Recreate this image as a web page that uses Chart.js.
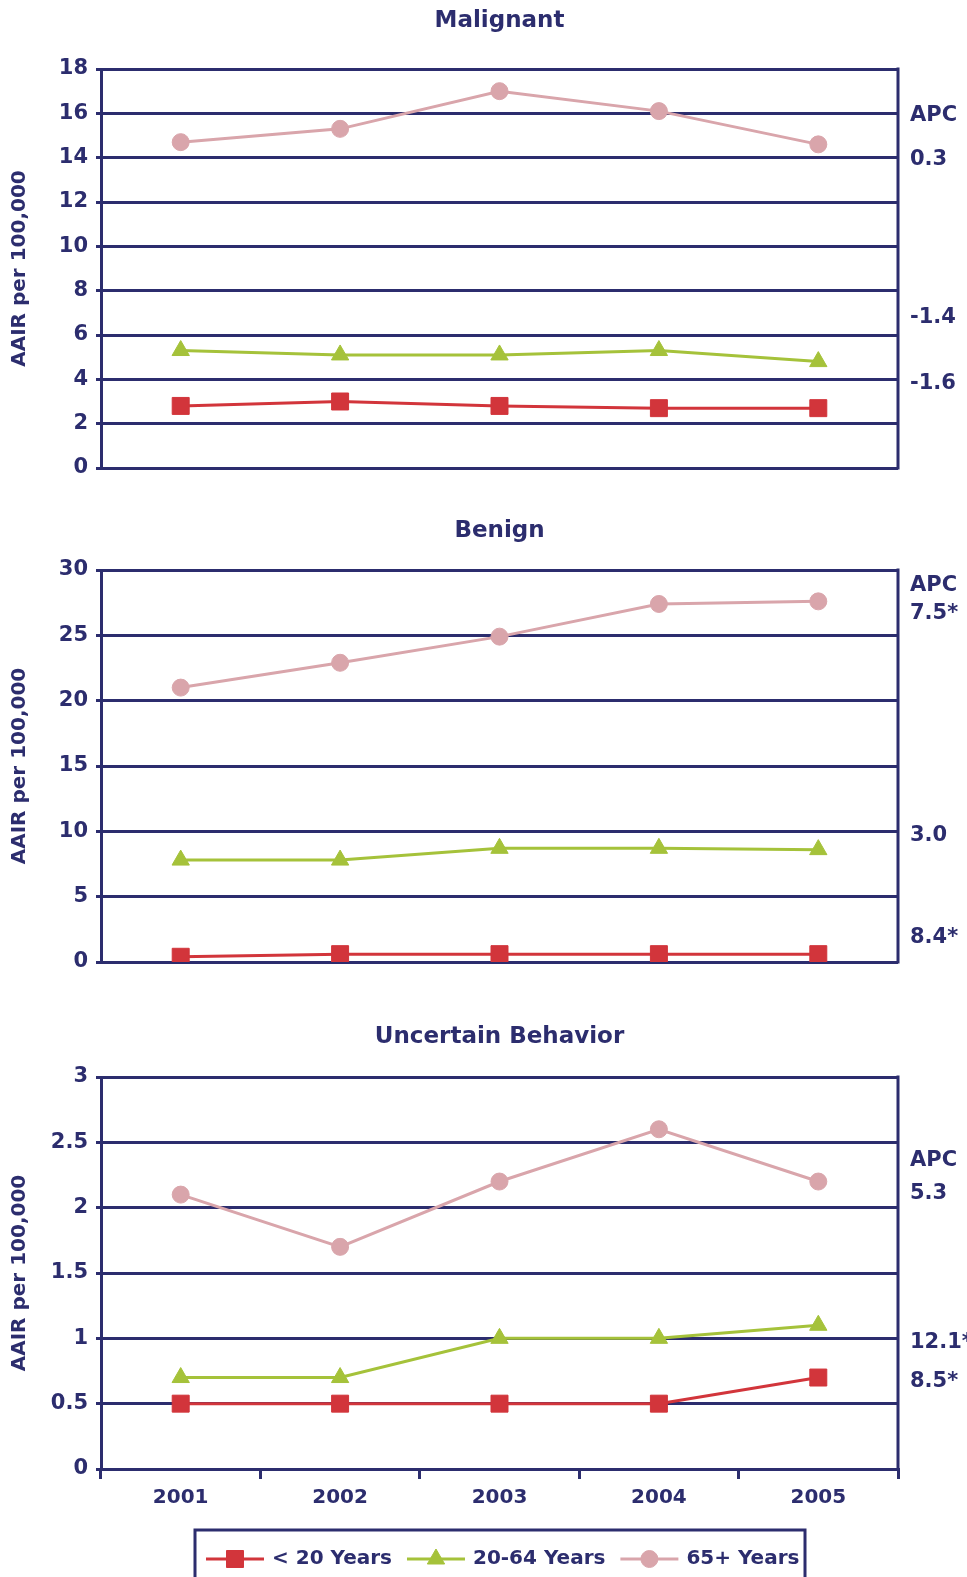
<!DOCTYPE html>
<html><head><meta charset="utf-8">
<script src="https://cdn.jsdelivr.net/npm/chart.js@4.4.0/dist/chart.umd.min.js"></script>
<style>
html,body{margin:0;padding:0;background:#fff;}
#wrap{position:relative;width:967px;height:1577px;overflow:hidden;background:#fff}
.c{position:absolute;left:0;width:967px}
canvas{display:block}
</style></head><body>
<div id="wrap">
<div class="c" style="top:0;height:500px"><canvas id="c1" width="967" height="500"></canvas></div>
<div class="c" style="top:500px;height:500px"><canvas id="c2" width="967" height="500"></canvas></div>
<div class="c" style="top:1000px;height:577px"><canvas id="c3" width="967" height="577"></canvas></div>
</div>
<script>
// ---- data ----
const years = ['2001', '2002', '2003', '2004', '2005'];
const seriesLabels = ['< 20 Years', '20-64 Years', '65+ Years'];
const panelTitles = ['Malignant', 'Benign', 'Uncertain Behavior'];
const yAxisTitle = 'AAIR per 100,000';

const malignantUnder20 = [2.8, 3.0, 2.8, 2.7, 2.7];
const malignant20to64  = [5.3, 5.1, 5.1, 5.3, 4.8];
const malignant65plus  = [14.7, 15.3, 17.0, 16.1, 14.6];

const benignUnder20 = [0.4, 0.6, 0.6, 0.6, 0.6];
const benign20to64  = [7.8, 7.8, 8.7, 8.7, 8.6];
const benign65plus  = [21.0, 22.9, 24.9, 27.4, 27.6];

const uncertainUnder20 = [0.5, 0.5, 0.5, 0.5, 0.7];
const uncertain20to64  = [0.7, 0.7, 1.0, 1.0, 1.1];
const uncertain65plus  = [2.1, 1.7, 2.2, 2.6, 2.2];

const malignantAxis = {max: 18, step: 2};
const benignAxis = {max: 30, step: 5};
const uncertainAxis = {max: 3, step: 0.5};

const malignantAPC = ['APC', '0.3', '-1.4', '-1.6'];
const benignAPC = ['APC', '7.5*', '3.0', '8.4*'];
const uncertainAPC = ['APC', '5.3', '12.1*', '8.5*'];

// ---- styling / placement (not data) ----
const NAVY = '#2c2d6e';
const RED = '#d2353b', GREEN = '#a5c23a', PINK = '#d9a5ab';
const FONT = "'DejaVu Sans', sans-serif";
Chart.defaults.font.family = FONT;
Chart.defaults.font.weight = 'bold';
Chart.defaults.color = NAVY;

const malignantAPCAt = [15.9, 13.9, 6.8, 3.8];
const benignAPCAt = [28.8, 26.7, 9.65, 1.9];
const uncertainAPCAt = [2.36, 2.11, 0.97, 0.67];

const deco = {
  id: 'deco',
  afterDraw(chart, args, o) {
    const {ctx, chartArea: a} = chart;
    ctx.save();
    ctx.strokeStyle = NAVY; ctx.lineWidth = 3;
    ctx.beginPath(); ctx.moveTo(a.right, a.top - 1.5); ctx.lineTo(a.right, a.bottom + 1.5); ctx.stroke();
    ctx.fillStyle = NAVY;
    ctx.textBaseline = 'middle';
    ctx.textAlign = 'center';
    ctx.font = 'bold 23px ' + FONT;
    ctx.fillText(o.title, (a.left + a.right) / 2, o.titleY);
    ctx.textAlign = 'left';
    ctx.font = 'bold 21px ' + FONT;
    const ys = chart.scales.y;
    o.notes.forEach((t, i) => ctx.fillText(t, a.right + 12, ys.getPixelForValue(o.noteAt[i])));
    if (o.legend) {
      const L = o.legend;
      ctx.strokeRect(L.x, L.y, L.w, L.h);
      let x = L.x + 11;
      const cy = L.y + 29;
      ctx.font = 'bold 20px ' + FONT;
      chart.data.datasets.forEach(ds => {
        ctx.strokeStyle = ds.borderColor; ctx.lineWidth = 3;
        ctx.beginPath(); ctx.moveTo(x, cy); ctx.lineTo(x + 58, cy); ctx.stroke();
        ctx.fillStyle = ds.pointBackgroundColor; ctx.strokeStyle = ds.pointBackgroundColor; ctx.lineWidth = 1;
        Chart.helpers.drawPoint(ctx, {pointStyle: ds.pointStyle, radius: ds.pointRadius, rotation: 0, borderWidth: 1}, x + 29, cy);
        ctx.fillStyle = NAVY;
        ctx.fillText(ds.label, x + 66, cy);
        x += 66 + ctx.measureText(ds.label).width + 15;
      });
    }
    ctx.restore();
  }
};

function makeDatasets(u20, mid, old) {
  const base = {borderWidth: 3, pointBorderWidth: 1, tension: 0};
  return [
    Object.assign({label: seriesLabels[0], data: u20, borderColor: RED, pointBackgroundColor: RED, pointBorderColor: RED, pointStyle: 'rect', pointRadius: 12}, base),
    Object.assign({label: seriesLabels[1], data: mid, borderColor: GREEN, pointBackgroundColor: GREEN, pointBorderColor: GREEN, pointStyle: 'triangle', pointRadius: 10}, base),
    Object.assign({label: seriesLabels[2], data: old, borderColor: PINK, pointBackgroundColor: PINK, pointBorderColor: PINK, pointStyle: 'circle', pointRadius: 8.5}, base)
  ];
}

function makeChart(id, datasets, axis, title, titleY, notes, noteAt, padTop, padBottom, showX, legend) {
  return new Chart(document.getElementById(id), {
    type: 'line',
    data: {labels: years, datasets},
    plugins: [deco],
    options: {
      responsive: false, animation: false,
      layout: {padding: {left: 0, right: 69, top: padTop, bottom: padBottom}},
      plugins: {
        legend: {display: false}, tooltip: {enabled: false}, title: {display: false},
        deco: {title, titleY, notes, noteAt, legend}
      },
      scales: {
        x: {
          display: showX, offset: true,
          grid: {display: true, offset: true, drawOnChartArea: false, drawTicks: true, tickLength: 10, color: NAVY, lineWidth: 3},
          border: {display: true, color: NAVY, width: 3},
          ticks: {font: {size: 20, weight: 'bold'}, color: NAVY, padding: 7, maxRotation: 0},
          afterFit: s => { if (showX) s.height = 108; }
        },
        y: {
          min: 0, max: axis.max,
          ticks: {stepSize: axis.step, font: {size: 21, weight: 'bold'}, color: NAVY, padding: 8,
                  callback: v => String(v)},
          grid: {color: NAVY, lineWidth: 3, tickLength: 5, drawTicks: true},
          border: {display: true, color: NAVY, width: 3},
          title: {display: true, text: yAxisTitle, font: {size: 20, weight: 'bold'}, color: NAVY, padding: {top: 8, bottom: 0}},
          afterFit: s => { s.width = 101; }
        }
      }
    }
  });
}

makeChart('c1', makeDatasets(malignantUnder20, malignant20to64, malignant65plus), malignantAxis,
  panelTitles[0], 21, malignantAPC, malignantAPCAt, 69, 32, false, null);
makeChart('c2', makeDatasets(benignUnder20, benign20to64, benign65plus), benignAxis,
  panelTitles[1], 31, benignAPC, benignAPCAt, 70, 38, false, null);
makeChart('c3', makeDatasets(uncertainUnder20, uncertain20to64, uncertain65plus), uncertainAxis,
  panelTitles[2], 37, uncertainAPC, uncertainAPCAt, 77, 0, true, {x: 195, y: 530, w: 610, h: 62});
</script>
</body></html>
